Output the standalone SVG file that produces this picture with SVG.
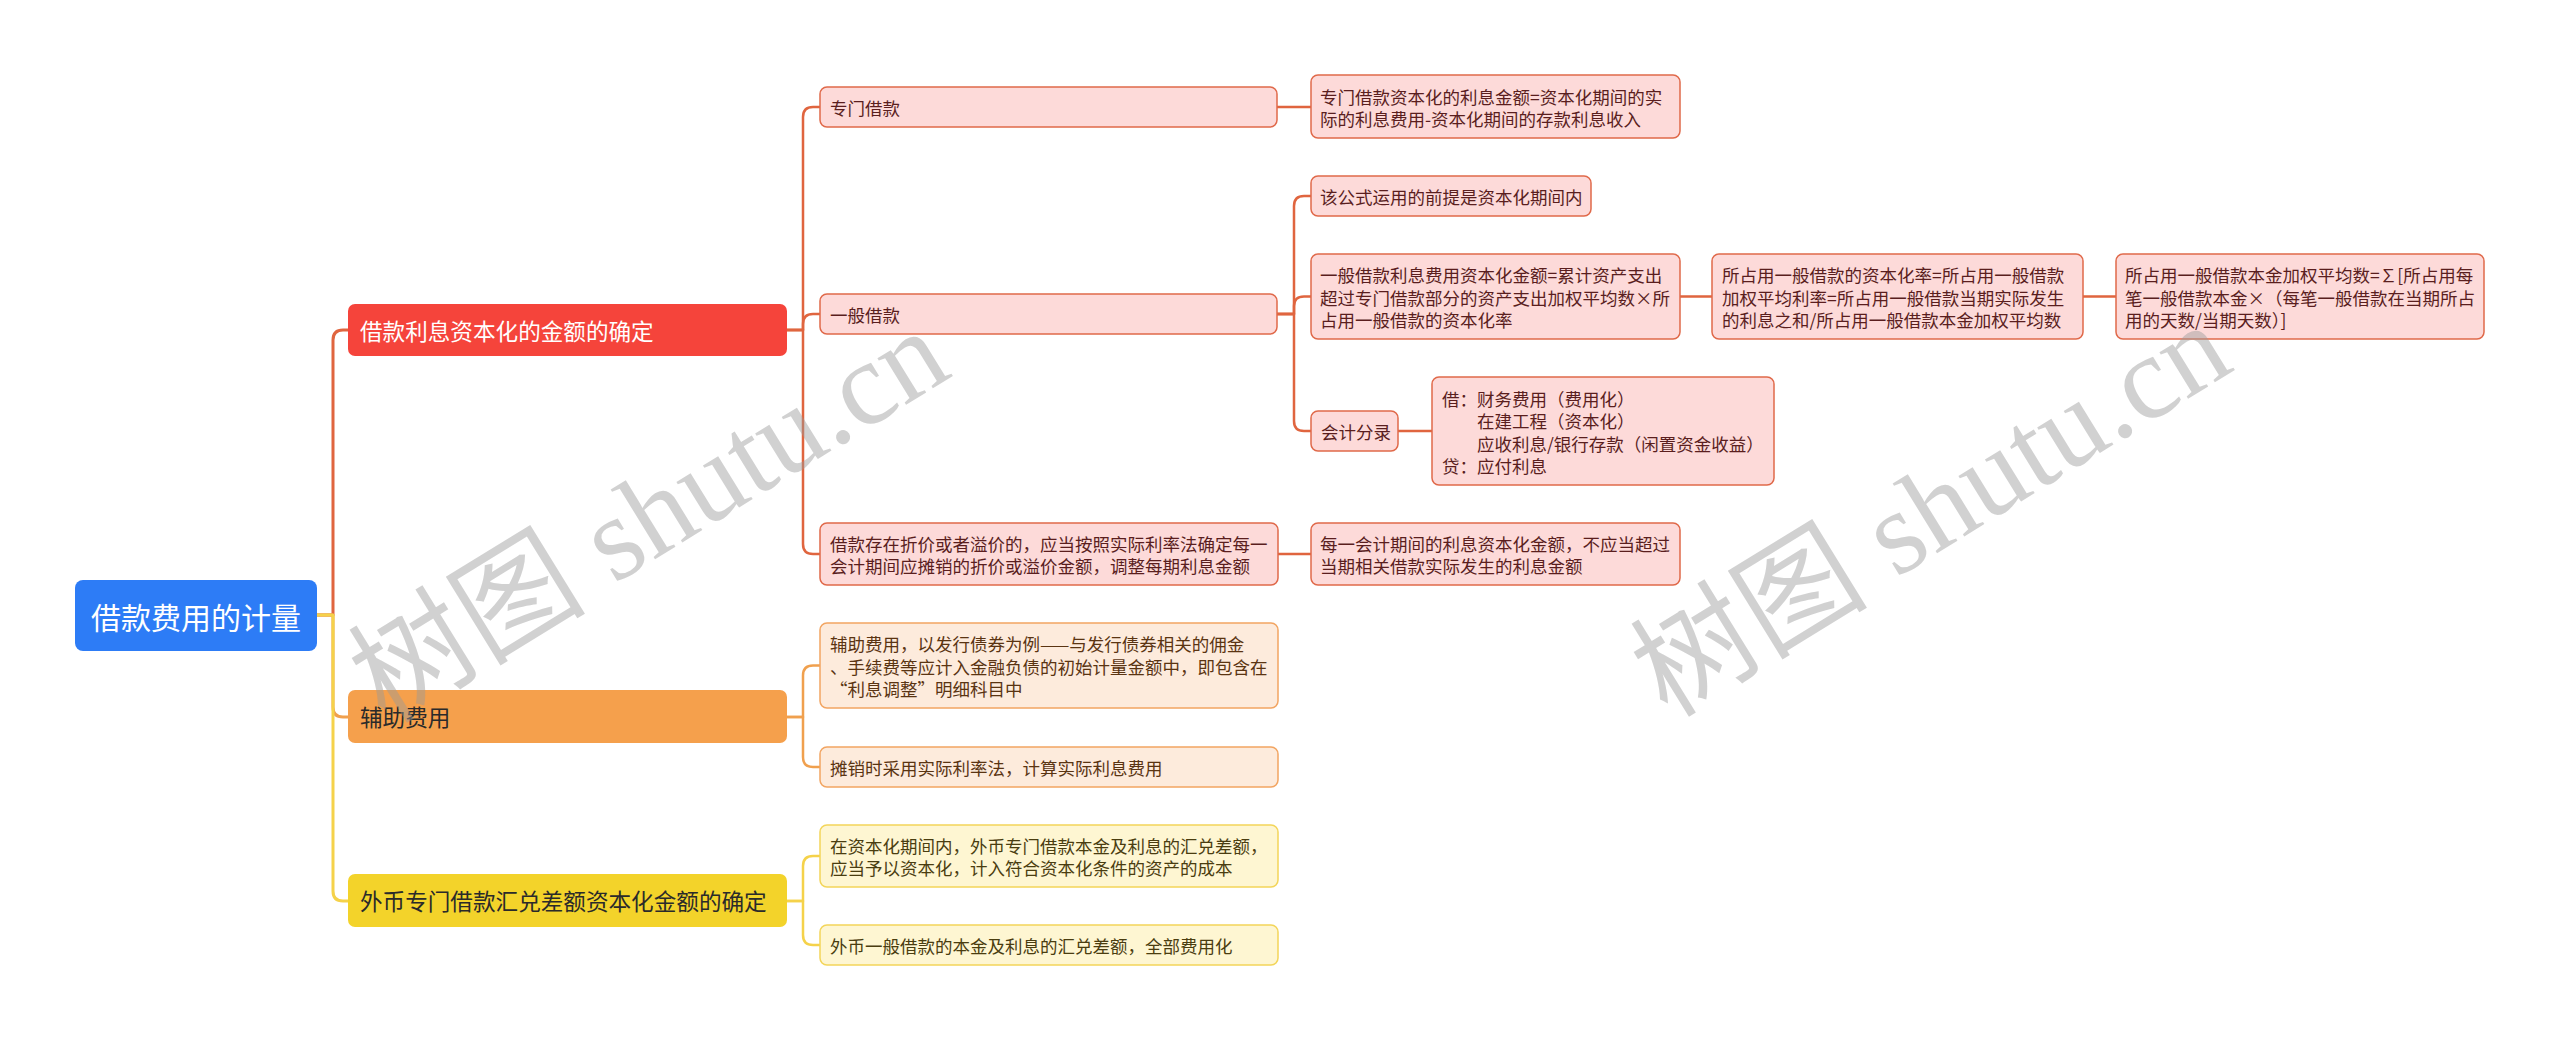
<svg xmlns="http://www.w3.org/2000/svg" width="2560" height="1041" viewBox="0 0 2560 1041">
<style>
text{font-family:"Noto Sans CJK SC","Microsoft YaHei",sans-serif;dominant-baseline:central}
.root{fill:#2D7CF6}
.rt{fill:#fff;font-size:30px}
.b1{fill:#F5443B}
.b2{fill:#F5A04C}
.b3{fill:#F3D32A}
.bt{font-size:22.6px}
.n1{fill:#FDDAD9;stroke:#E0694A;stroke-width:1.5}
.n2{fill:#FDEBDC;stroke:#F2A562;stroke-width:1.5}
.n3{fill:#FEF6D2;stroke:#F3D55A;stroke-width:1.5}
.t{font-size:17.5px}
.t1{fill:#5A1E1E}
.t2{fill:#5A3412}
.t3{fill:#4A3D10}
.c{fill:none;stroke-width:2.5;stroke-linecap:round;stroke-linejoin:round}
.c1{stroke:#E0653F}
.c2{stroke:#F0A04E}
.c3{stroke:#F5D24A}
.wm{font-family:"Liberation Serif","Noto Sans CJK SC",serif;font-size:119px;fill:#9a9a9a;fill-opacity:0.45;text-anchor:middle}
</style>
<rect width="2560" height="1041" fill="#fff"/>
<g id="connectors">
<path class="c c1" style="stroke-width:3" d="M317,615 H333 V340 Q333,330 343,330 H348"/>
<path class="c c2" style="stroke-width:3" d="M317,615 H333 V707 Q333,717 343,717 H348"/>
<path class="c c3" style="stroke-width:3" d="M317,615 H333 V891 Q333,901 343,901 H348"/>
<path class="c c1" d="M787,330 H803 V117 Q803,107 813,107 H820"/>
<path class="c c1" d="M787,330 H803 V324 Q803,314 813,314 H820"/>
<path class="c c1" d="M787,330 H803 V544 Q803,554 813,554 H820"/>
<path class="c c1" d="M1277,107 H1311"/>
<path class="c c1" d="M1277,314 H1294 V206 Q1294,196 1304,196 H1311"/>
<path class="c c1" d="M1277,314 H1294 V306 Q1294,296.5 1304,296.5 H1311"/>
<path class="c c1" d="M1277,314 H1294 V421 Q1294,431 1304,431 H1311"/>
<path class="c c1" d="M1680,296.5 H1712"/>
<path class="c c1" d="M2083,296.5 H2116"/>
<path class="c c1" d="M1398,431 H1432"/>
<path class="c c1" d="M1278,554 H1311"/>
<path class="c c2" d="M787,717 H803 V675.5 Q803,665.5 813,665.5 H820"/>
<path class="c c2" d="M787,717 H803 V757 Q803,767 813,767 H820"/>
<path class="c c3" d="M787,901 H803 V866 Q803,856 813,856 H820"/>
<path class="c c3" d="M787,901 H803 V935 Q803,945 813,945 H820"/>
</g>
<g id="root"><rect class="root" x="75" y="580" width="242" height="71" rx="8"/><text class="rt" x="91" y="615.5">借款费用的计量</text></g>
<g id="b1"><rect class="b1" x="348" y="304" width="439" height="52" rx="7"/><text class="bt" x="360" y="330" fill="#fff">借款利息资本化的金额的确定</text></g>
<g id="b2"><rect class="b2" x="348" y="690" width="439" height="53" rx="7"/><text class="bt" x="360" y="716.5" fill="#2a2a2a">辅助费用</text></g>
<g id="b3"><rect class="b3" x="348" y="874" width="439" height="53" rx="7"/><text class="bt" x="360" y="900.5" fill="#2a2a2a">外币专门借款汇兑差额资本化金额的确定</text></g>

<g id="n-zmjk"><rect class="n1" x="820" y="87" width="457" height="40" rx="7"/><text class="t t1" x="830" y="107">专门借款</text></g>
<g id="n-zmjk-f"><rect class="n1" x="1311" y="75" width="369" height="63" rx="7"/><text class="t t1"><tspan x="1320" y="96">专门借款资本化的利息金额=资本化期间的实</tspan><tspan x="1320" y="118">际的利息费用-资本化期间的存款利息收入</tspan></text></g>
<g id="n-ybjk"><rect class="n1" x="820" y="294" width="457" height="40" rx="7"/><text class="t t1" x="830" y="314">一般借款</text></g>
<g id="n-qt"><rect class="n1" x="1311" y="176" width="280" height="40" rx="7"/><text class="t t1" x="1320" y="196">该公式运用的前提是资本化期间内</text></g>
<g id="n-ybf"><rect class="n1" x="1311" y="254" width="369" height="85" rx="7"/><text class="t t1"><tspan x="1320" y="274">一般借款利息费用资本化金额=累计资产支出</tspan><tspan x="1320" y="296.5">超过专门借款部分的资产支出加权平均数×所</tspan><tspan x="1320" y="319">占用一般借款的资本化率</tspan></text></g>
<g id="n-zbhl"><rect class="n1" x="1712" y="254" width="371" height="85" rx="7"/><text class="t t1"><tspan x="1722" y="274">所占用一般借款的资本化率=所占用一般借款</tspan><tspan x="1722" y="296.5">加权平均利率=所占用一般借款当期实际发生</tspan><tspan x="1722" y="319">的利息之和/所占用一般借款本金加权平均数</tspan></text></g>
<g id="n-bjjq"><rect class="n1" x="2116" y="254" width="368" height="85" rx="7"/><text class="t t1"><tspan x="2125" y="274">所占用一般借款本金加权平均数=∑[所占用每</tspan><tspan x="2125" y="296.5">笔一般借款本金×（每笔一般借款在当期所占</tspan><tspan x="2125" y="319">用的天数/当期天数）]</tspan></text></g>
<g id="n-kjfl"><rect class="n1" x="1311" y="411" width="87" height="40" rx="7"/><text class="t t1" x="1321" y="431">会计分录</text></g>
<g id="n-jd"><rect class="n1" x="1432" y="377" width="342" height="108" rx="7"/><text class="t t1"><tspan x="1442" y="397.5">借：财务费用（费用化）</tspan><tspan x="1477" y="420">在建工程（资本化）</tspan><tspan x="1477" y="442.5">应收利息/银行存款（闲置资金收益）</tspan><tspan x="1442" y="465">贷：应付利息</tspan></text></g>
<g id="n-zj"><rect class="n1" x="820" y="523" width="458" height="62" rx="7"/><text class="t t1"><tspan x="830" y="543">借款存在折价或者溢价的，应当按照实际利率法确定每一</tspan><tspan x="830" y="565">会计期间应摊销的折价或溢价金额，调整每期利息金额</tspan></text></g>
<g id="n-mj"><rect class="n1" x="1311" y="523" width="369" height="62" rx="7"/><text class="t t1"><tspan x="1320" y="543">每一会计期间的利息资本化金额，不应当超过</tspan><tspan x="1320" y="565">当期相关借款实际发生的利息金额</tspan></text></g>

<g id="n-fz1"><rect class="n2" x="820" y="623" width="458" height="85" rx="7"/><text class="t t2"><tspan x="830" y="643">辅助费用，以发行债券为例——与发行债券相关的佣金</tspan><tspan x="830" y="665.5">、手续费等应计入金融负债的初始计量金额中，即包含在</tspan><tspan x="830" y="688">“利息调整”明细科目中</tspan></text></g>
<g id="n-fz2"><rect class="n2" x="820" y="747" width="458" height="40" rx="7"/><text class="t t2" x="830" y="767">摊销时采用实际利率法，计算实际利息费用</text></g>

<g id="n-wb1"><rect class="n3" x="820" y="825" width="458" height="62" rx="7"/><text class="t t3"><tspan x="830" y="845">在资本化期间内，外币专门借款本金及利息的汇兑差额，</tspan><tspan x="830" y="867">应当予以资本化，计入符合资本化条件的资产的成本</tspan></text></g>
<g id="n-wb2"><rect class="n3" x="820" y="925" width="458" height="40" rx="7"/><text class="t t3" x="830" y="945">外币一般借款的本金及利息的汇兑差额，全部费用化</text></g>

<g id="watermarks">
<text class="wm" transform="translate(649,516) rotate(-31.6)">树图 shutu.cn</text>
<text class="wm" transform="translate(1931,510) rotate(-31.6)">树图 shutu.cn</text>
</g>
</svg>
